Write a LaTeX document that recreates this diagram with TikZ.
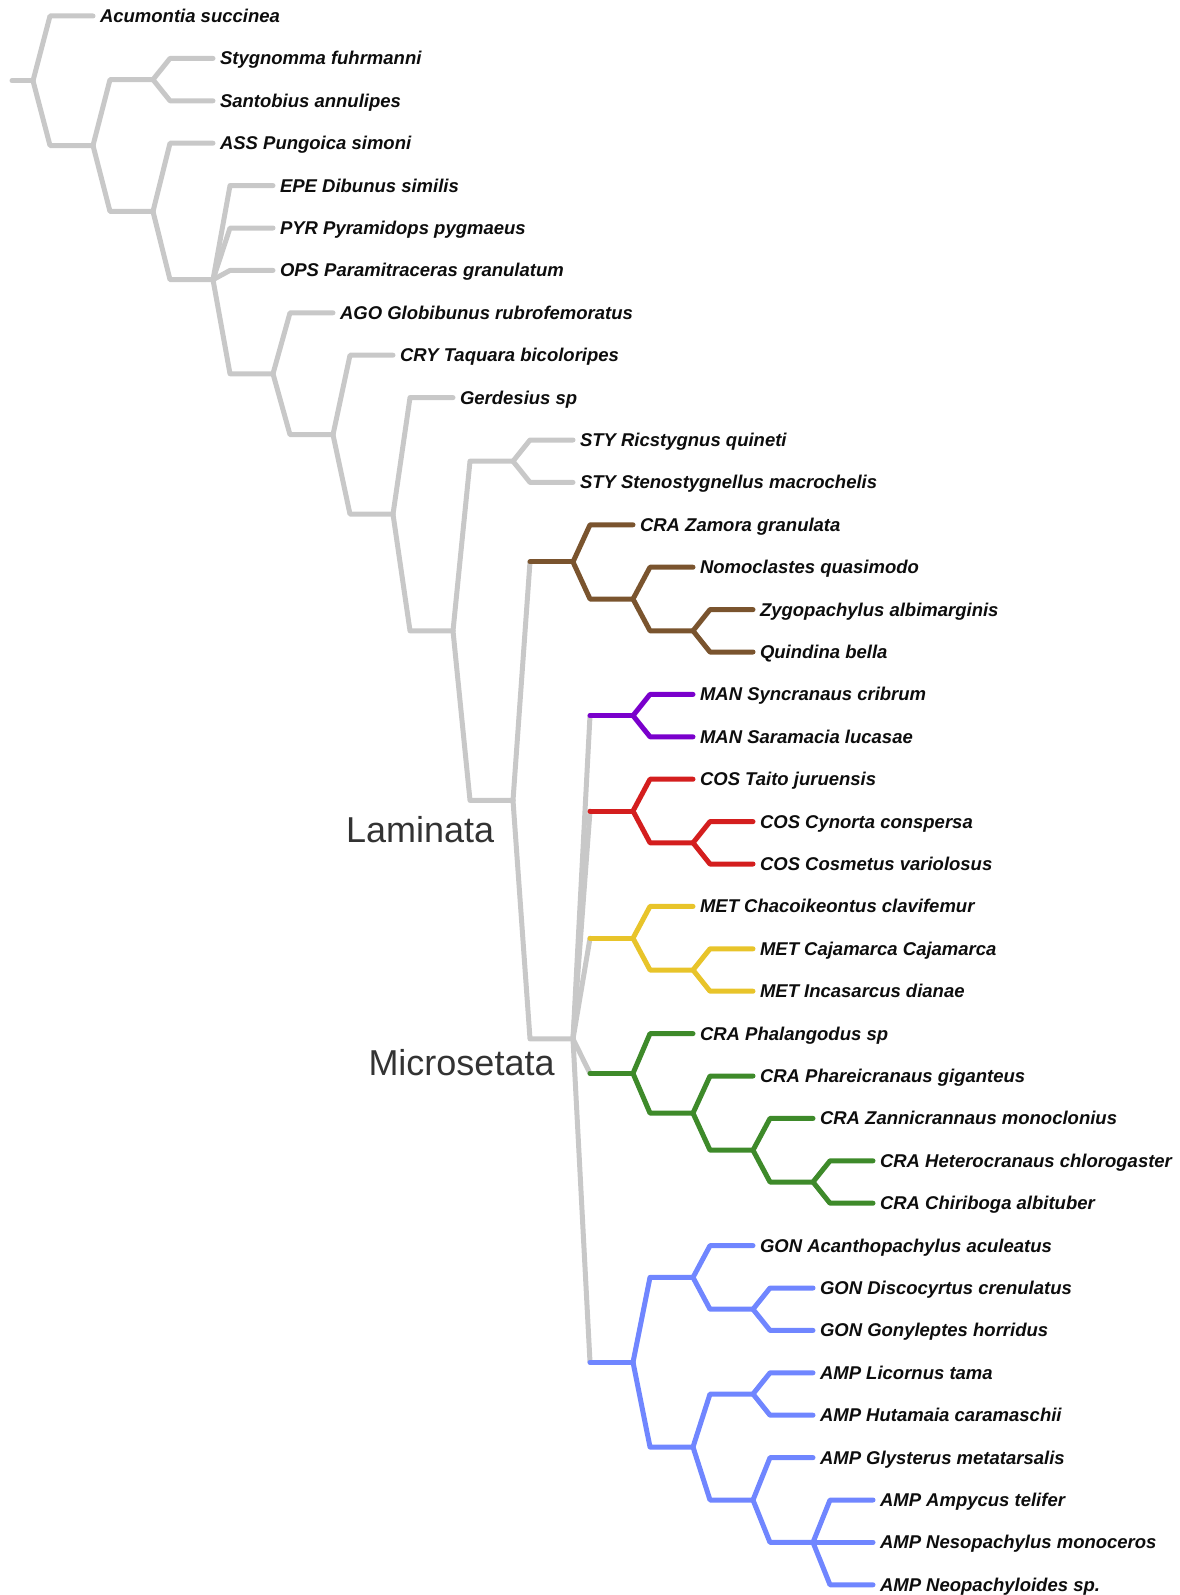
\documentclass[tikz,border=0pt]{standalone}
\usepackage{fontspec}
\setmainfont{Liberation Sans}
\usepackage{tikz}
\definecolor{trgray}{RGB}{200,200,200}
\definecolor{trbrown}{RGB}{122,84,46}
\definecolor{trpurple}{RGB}{122,0,204}
\definecolor{trred}{RGB}{212,30,30}
\definecolor{tryellow}{RGB}{232,196,42}
\definecolor{trgreen}{RGB}{62,138,42}
\definecolor{trblue}{RGB}{112,134,255}
\definecolor{lblgray}{RGB}{51,51,51}
\begin{document}
\begin{tikzpicture}[x=1pt,y=-1pt,line width=5pt,line cap=round,line join=round,
  leaf/.style={anchor=west,inner xsep=4.5pt,inner ysep=0pt,text height=13pt,text depth=0pt,
    font=\bfseries\itshape\fontsize{18.5}{20}\selectfont,text=black!95},
  cladename/.style={anchor=base west,inner sep=0pt,font=\fontsize{36}{40}\selectfont,text=lblgray}]
\useasboundingbox (0,0) rectangle (1179,1595);
% leaves
\node[leaf] (acu) at (93,16) {Acumontia succinea};
\node[leaf] (sty) at (213,58.4) {Stygnomma fuhrmanni};
\node[leaf] (san) at (213,100.8) {Santobius annulipes};
\node[leaf] (ass) at (213,143.2) {ASS Pungoica simoni};
\node[leaf] (epe) at (273,185.6) {EPE Dibunus similis};
\node[leaf] (pyr) at (273,228) {PYR Pyramidops pygmaeus};
\node[leaf] (ops) at (273,270.4) {OPS Paramitraceras granulatum};
\node[leaf] (ago) at (333,312.8) {AGO Globibunus rubrofemoratus};
\node[leaf] (cry) at (393,355.2) {CRY Taquara bicoloripes};
\node[leaf] (ger) at (453,397.6) {Gerdesius sp};
\node[leaf] (ric) at (573,440) {STY Ricstygnus quineti};
\node[leaf] (ste) at (573,482.4) {STY Stenostygnellus macrochelis};
\node[leaf] (zam) at (633,524.8) {CRA Zamora granulata};
\node[leaf] (nom) at (693,567.2) {Nomoclastes quasimodo};
\node[leaf] (zyg) at (753,609.6) {Zygopachylus albimarginis};
\node[leaf] (qui) at (753,652) {Quindina bella};
\node[leaf] (syn) at (693,694.4) {MAN Syncranaus cribrum};
\node[leaf] (sar) at (693,736.8) {MAN Saramacia lucasae};
\node[leaf] (tai) at (693,779.2) {COS Taito juruensis};
\node[leaf] (cyn) at (753,821.6) {COS Cynorta conspersa};
\node[leaf] (cos) at (753,864) {COS Cosmetus variolosus};
\node[leaf] (cha) at (693,906.4) {MET Chacoikeontus clavifemur};
\node[leaf] (caj) at (753,948.8) {MET Cajamarca Cajamarca};
\node[leaf] (inc) at (753,991.2) {MET Incasarcus dianae};
\node[leaf] (pha) at (693,1033.6) {CRA Phalangodus sp};
\node[leaf] (phr) at (753,1076) {CRA Phareicranaus giganteus};
\node[leaf] (zan) at (813,1118.4) {CRA Zannicrannaus monoclonius};
\node[leaf] (het) at (873,1160.8) {CRA Heterocranaus chlorogaster};
\node[leaf] (chi) at (873,1203.2) {CRA Chiriboga albituber};
\node[leaf] (aca) at (753,1245.6) {GON Acanthopachylus aculeatus};
\node[leaf] (dis) at (813,1288) {GON Discocyrtus crenulatus};
\node[leaf] (gon) at (813,1330.4) {GON Gonyleptes horridus};
\node[leaf] (lic) at (813,1372.8) {AMP Licornus tama};
\node[leaf] (hut) at (813,1415.2) {AMP Hutamaia caramaschii};
\node[leaf] (gly) at (813,1457.6) {AMP Glysterus metatarsalis};
\node[leaf] (amp) at (873,1500) {AMP Ampycus telifer};
\node[leaf] (nes) at (873,1542.4) {AMP Nesopachylus monoceros};
\node[leaf] (neo) at (873,1584.8) {AMP Neopachyloides sp.};
% inner nodes
\coordinate (stem) at (12,80.75);
\coordinate (root) at (33,80.75);
\coordinate (n1) at (93,145.5);
\coordinate (n2) at (153,79.6);
\coordinate (n3) at (153,211.45);
\coordinate (n4) at (213,279.7);
\coordinate (n5) at (273,373.75);
\coordinate (n6) at (333,434.7);
\coordinate (n7) at (393,514.2);
\coordinate (n8) at (453,630.8);
\coordinate (s0) at (513,461.2);
\coordinate (n10) at (513,800.4);
\coordinate (n12) at (573,1038.9);
\coordinate (bro1) at (573,561.9);
\coordinate (bro2) at (633,599);
\coordinate (bro3) at (693,630.8);
\coordinate (man1) at (633,715.6);
\coordinate (cos1) at (633,811);
\coordinate (cos2) at (693,842.8);
\coordinate (met1) at (633,938.2);
\coordinate (met2) at (693,970);
\coordinate (cra1) at (633,1073.35);
\coordinate (cra2) at (693,1113.1);
\coordinate (cra3) at (753,1150.2);
\coordinate (cra4) at (813,1182);
\coordinate (blu1) at (633,1362.2);
\coordinate (blu2) at (693,1277.4);
\coordinate (blu3) at (753,1309.2);
\coordinate (blu4) at (693,1447);
\coordinate (blu5) at (753,1394);
\coordinate (blu6) at (753,1500);
\coordinate (blu7) at (813,1542.4);
% gray backbone
\begin{scope}[trgray]
\draw (stem) -- (root);
\draw (root) -- ([xshift=17pt]root |- acu.west) -- (acu.west);
\draw (root) -- ([xshift=17pt]root |- n1) -- (n1);
\draw (n1) -- ([xshift=17pt]n1 |- n2) -- (n2);
\draw (n1) -- ([xshift=17pt]n1 |- n3) -- (n3);
\draw (n2) -- ([xshift=17pt]n2 |- sty.west) -- (sty.west);
\draw (n2) -- ([xshift=17pt]n2 |- san.west) -- (san.west);
\draw (n3) -- ([xshift=17pt]n3 |- ass.west) -- (ass.west);
\draw (n3) -- ([xshift=17pt]n3 |- n4) -- (n4);
\draw (n4) -- ([xshift=17pt]n4 |- epe.west) -- (epe.west);
\draw (n4) -- ([xshift=17pt]n4 |- pyr.west) -- (pyr.west);
\draw (n4) -- ([xshift=17pt]n4 |- ops.west) -- (ops.west);
\draw (n4) -- ([xshift=17pt]n4 |- n5) -- (n5);
\draw (n5) -- ([xshift=17pt]n5 |- ago.west) -- (ago.west);
\draw (n5) -- ([xshift=17pt]n5 |- n6) -- (n6);
\draw (n6) -- ([xshift=17pt]n6 |- cry.west) -- (cry.west);
\draw (n6) -- ([xshift=17pt]n6 |- n7) -- (n7);
\draw (n7) -- ([xshift=17pt]n7 |- ger.west) -- (ger.west);
\draw (n7) -- ([xshift=17pt]n7 |- n8) -- (n8);
\draw (n8) -- ([xshift=17pt]n8 |- s0) -- (s0);
\draw (n8) -- ([xshift=17pt]n8 |- n10) -- (n10);
\draw (s0) -- ([xshift=17pt]s0 |- ric.west) -- (ric.west);
\draw (s0) -- ([xshift=17pt]s0 |- ste.west) -- (ste.west);
\draw (n10) -- ([xshift=17pt]n10 |- bro1);
\draw (n10) -- ([xshift=17pt]n10 |- n12) -- (n12);
\draw (n12) -- ([xshift=17pt]n12 |- man1);
\draw (n12) -- ([xshift=17pt]n12 |- cos1);
\draw (n12) -- ([xshift=17pt]n12 |- met1);
\draw (n12) -- ([xshift=17pt]n12 |- cra1);
\draw (n12) -- ([xshift=17pt]n12 |- blu1);
\end{scope}
%
\begin{scope}[trbrown]
\draw ([xshift=17pt]n10 |- bro1) -- (bro1);
\draw (bro1) -- ([xshift=17pt]bro1 |- zam.west) -- (zam.west);
\draw (bro1) -- ([xshift=17pt]bro1 |- bro2) -- (bro2);
\draw (bro2) -- ([xshift=17pt]bro2 |- nom.west) -- (nom.west);
\draw (bro2) -- ([xshift=17pt]bro2 |- bro3) -- (bro3);
\draw (bro3) -- ([xshift=17pt]bro3 |- zyg.west) -- (zyg.west);
\draw (bro3) -- ([xshift=17pt]bro3 |- qui.west) -- (qui.west);
\end{scope}
%
\begin{scope}[trpurple]
\draw ([xshift=17pt]n12 |- man1) -- (man1);
\draw (man1) -- ([xshift=17pt]man1 |- syn.west) -- (syn.west);
\draw (man1) -- ([xshift=17pt]man1 |- sar.west) -- (sar.west);
\end{scope}
%
\begin{scope}[trred]
\draw ([xshift=17pt]n12 |- cos1) -- (cos1);
\draw (cos1) -- ([xshift=17pt]cos1 |- tai.west) -- (tai.west);
\draw (cos1) -- ([xshift=17pt]cos1 |- cos2) -- (cos2);
\draw (cos2) -- ([xshift=17pt]cos2 |- cyn.west) -- (cyn.west);
\draw (cos2) -- ([xshift=17pt]cos2 |- cos.west) -- (cos.west);
\end{scope}
%
\begin{scope}[tryellow]
\draw ([xshift=17pt]n12 |- met1) -- (met1);
\draw (met1) -- ([xshift=17pt]met1 |- cha.west) -- (cha.west);
\draw (met1) -- ([xshift=17pt]met1 |- met2) -- (met2);
\draw (met2) -- ([xshift=17pt]met2 |- caj.west) -- (caj.west);
\draw (met2) -- ([xshift=17pt]met2 |- inc.west) -- (inc.west);
\end{scope}
%
\begin{scope}[trgreen]
\draw ([xshift=17pt]n12 |- cra1) -- (cra1);
\draw (cra1) -- ([xshift=17pt]cra1 |- pha.west) -- (pha.west);
\draw (cra1) -- ([xshift=17pt]cra1 |- cra2) -- (cra2);
\draw (cra2) -- ([xshift=17pt]cra2 |- phr.west) -- (phr.west);
\draw (cra2) -- ([xshift=17pt]cra2 |- cra3) -- (cra3);
\draw (cra3) -- ([xshift=17pt]cra3 |- zan.west) -- (zan.west);
\draw (cra3) -- ([xshift=17pt]cra3 |- cra4) -- (cra4);
\draw (cra4) -- ([xshift=17pt]cra4 |- het.west) -- (het.west);
\draw (cra4) -- ([xshift=17pt]cra4 |- chi.west) -- (chi.west);
\end{scope}
%
\begin{scope}[trblue]
\draw ([xshift=17pt]n12 |- blu1) -- (blu1);
\draw (blu1) -- ([xshift=17pt]blu1 |- blu2) -- (blu2);
\draw (blu1) -- ([xshift=17pt]blu1 |- blu4) -- (blu4);
\draw (blu2) -- ([xshift=17pt]blu2 |- aca.west) -- (aca.west);
\draw (blu2) -- ([xshift=17pt]blu2 |- blu3) -- (blu3);
\draw (blu3) -- ([xshift=17pt]blu3 |- dis.west) -- (dis.west);
\draw (blu3) -- ([xshift=17pt]blu3 |- gon.west) -- (gon.west);
\draw (blu4) -- ([xshift=17pt]blu4 |- blu5) -- (blu5);
\draw (blu4) -- ([xshift=17pt]blu4 |- blu6) -- (blu6);
\draw (blu5) -- ([xshift=17pt]blu5 |- lic.west) -- (lic.west);
\draw (blu5) -- ([xshift=17pt]blu5 |- hut.west) -- (hut.west);
\draw (blu6) -- ([xshift=17pt]blu6 |- gly.west) -- (gly.west);
\draw (blu6) -- ([xshift=17pt]blu6 |- blu7) -- (blu7);
\draw (blu7) -- ([xshift=17pt]blu7 |- amp.west) -- (amp.west);
\draw (blu7) -- ([xshift=17pt]blu7 |- nes.west) -- (nes.west);
\draw (blu7) -- ([xshift=17pt]blu7 |- neo.west) -- (neo.west);
\end{scope}
%
\node[cladename] (lam) at (343.5,842) {Laminata};
\node[cladename] (mic) at (366,1075) {Microsetata};
\end{tikzpicture}
\end{document}
